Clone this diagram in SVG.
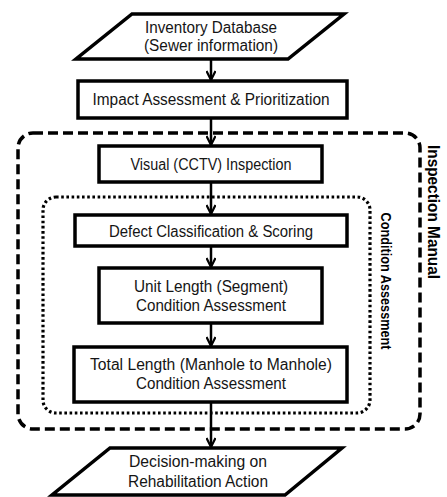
<svg xmlns="http://www.w3.org/2000/svg" width="447" height="497" viewBox="0 0 447 497">
  <style>
    .box { fill: #fff; stroke: #000; stroke-width: 3.5; stroke-linejoin: miter; }
    .lbl { font-family: "Liberation Sans", Arial, sans-serif; font-size: 16px; fill: #151515; text-anchor: middle; }
    .side { font-family: "Liberation Sans", Arial, sans-serif; font-weight: bold; fill: #000; text-anchor: middle; }
    .dash { fill: none; stroke: #000; stroke-width: 3.5; stroke-dasharray: 10 5; }
    .dot { fill: none; stroke: #000; stroke-width: 3.2; stroke-dasharray: 2.6 2.6; }
    .conn { stroke: #000; stroke-width: 2.5; fill: none; }
  </style>
  <defs>
    <marker id="arrow" markerWidth="12" markerHeight="10" refX="10" refY="5" orient="auto" markerUnits="userSpaceOnUse">
      <path d="M1,0.5 L10,5 L1,9.5" fill="none" stroke="#000" stroke-width="2.2"/>
    </marker>
  </defs>

  <!-- grouping frames -->
  <g id="inspection-manual">
    <rect class="dash" x="18" y="133" width="402" height="296" rx="15"/>
    <text class="side" font-size="17" transform="translate(428,212) rotate(90)" textLength="134" lengthAdjust="spacingAndGlyphs">Inspection Manual</text>
  </g>
  <g id="condition-assessment">
    <rect class="dot" x="43" y="197" width="327" height="216" rx="13"/>
    <text class="side" font-size="15.5" transform="translate(381,281) rotate(90)" textLength="137" lengthAdjust="spacingAndGlyphs">Condition Assessment</text>
  </g>

  <!-- connectors -->
  <g id="connectors">
    <line class="conn" x1="211" y1="60" x2="211" y2="80" marker-end="url(#arrow)"/>
    <line class="conn" x1="211" y1="119" x2="211" y2="145" marker-end="url(#arrow)"/>
    <line class="conn" x1="211" y1="183" x2="211" y2="214" marker-end="url(#arrow)"/>
    <line class="conn" x1="211" y1="247" x2="211" y2="267" marker-end="url(#arrow)"/>
    <line class="conn" x1="211" y1="324" x2="211" y2="346" marker-end="url(#arrow)"/>
    <line class="conn" x1="211" y1="403" x2="211" y2="447" marker-end="url(#arrow)"/>
  </g>

  <!-- nodes -->
  <g id="inventory-database">
    <polygon class="box" points="132,14 344,14 288,59 76,59"/>
    <text class="lbl" x="211" y="33" textLength="132" lengthAdjust="spacingAndGlyphs">Inventory Database</text>
    <text class="lbl" x="211" y="51" textLength="134" lengthAdjust="spacingAndGlyphs">(Sewer information)</text>
  </g>
  <g id="impact-assessment">
    <rect class="box" x="78" y="81" width="269" height="37"/>
    <text class="lbl" x="211" y="105" textLength="237" lengthAdjust="spacingAndGlyphs">Impact Assessment &amp; Prioritization</text>
  </g>
  <g id="visual-inspection">
    <rect class="box" x="99" y="146" width="223" height="36"/>
    <text class="lbl" x="211" y="170" textLength="161" lengthAdjust="spacingAndGlyphs">Visual (CCTV) Inspection</text>
  </g>
  <g id="defect-classification">
    <rect class="box" x="75" y="215" width="272" height="31"/>
    <text class="lbl" x="211" y="237" textLength="204" lengthAdjust="spacingAndGlyphs">Defect Classification &amp; Scoring</text>
  </g>
  <g id="unit-length">
    <rect class="box" x="99" y="268" width="223" height="55"/>
    <text class="lbl" x="211" y="292" textLength="154" lengthAdjust="spacingAndGlyphs">Unit Length (Segment)</text>
    <text class="lbl" x="211" y="311" textLength="150" lengthAdjust="spacingAndGlyphs">Condition Assessment</text>
  </g>
  <g id="total-length">
    <rect class="box" x="74" y="347" width="273" height="55"/>
    <text class="lbl" x="211" y="370" textLength="242" lengthAdjust="spacingAndGlyphs">Total Length (Manhole to Manhole)</text>
    <text class="lbl" x="211" y="389" textLength="150" lengthAdjust="spacingAndGlyphs">Condition Assessment</text>
  </g>
  <g id="decision-making">
    <polygon class="box" points="110,448 342,448 285,495 52,495"/>
    <text class="lbl" x="198" y="467" textLength="138" lengthAdjust="spacingAndGlyphs">Decision-making on</text>
    <text class="lbl" x="198" y="487" textLength="140" lengthAdjust="spacingAndGlyphs">Rehabilitation Action</text>
  </g>
</svg>
